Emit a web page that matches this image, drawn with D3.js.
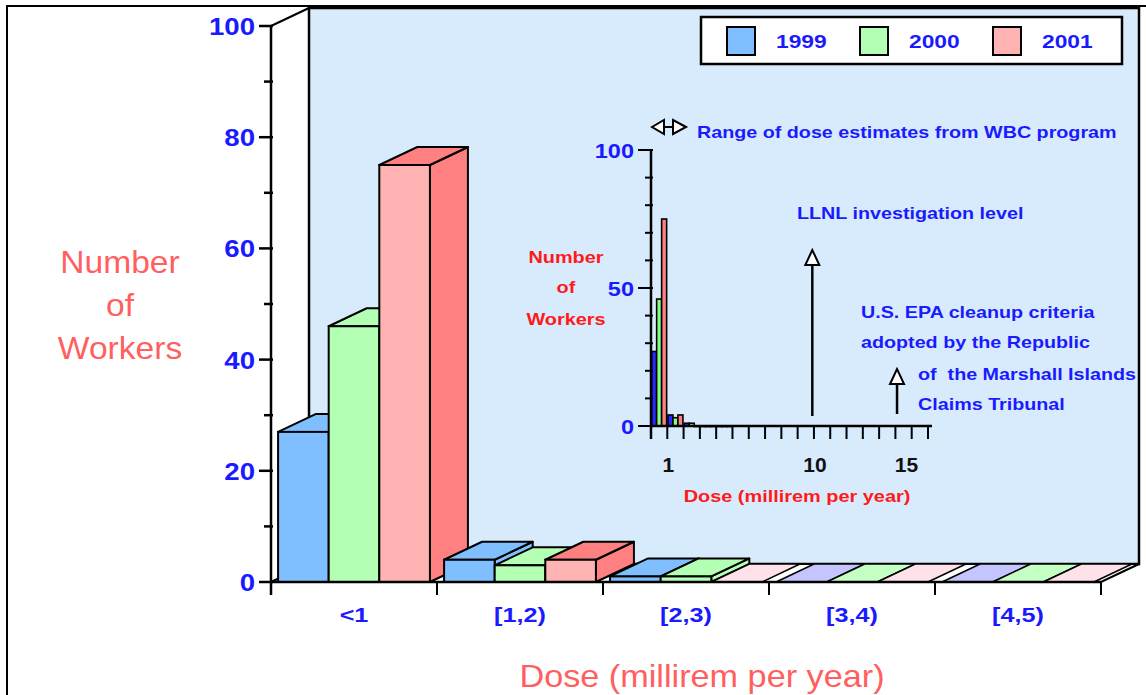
<!DOCTYPE html>
<html>
<head>
<meta charset="utf-8">
<script src="https://cdn.jsdelivr.net/npm/d3@7"></script>
<style>
  html, body { margin: 0; padding: 0; background: #ffffff; }
  svg { display: block; }
  text { font-family: "Liberation Sans", Arial, Helvetica, sans-serif; }
</style>
</head>
<body>
<svg id="chart" width="1146" height="695"></svg>
<script>
// Dose bins and worker counts per year
const categories = ["<1", "[1,2)", "[2,3)", "[3,4)", "[4,5)"];
const years = ["1999", "2000", "2001"];
const workers1999 = [27, 4, 1, 0, 0];
const workers2000 = [46, 3, 1, 0, 0];
const workers2001 = [75, 4, 0, 0, 0];
const yTicks = [0, 20, 40, 60, 80, 100];
const yMinorTicks = [10, 30, 50, 70, 90];

// Inset (linear dose axis)
const insetYTicks = [0, 50, 100];
const insetYMinorTicks = [10, 20, 30, 40, 60, 70, 80, 90];
const insetXTicks = d3.range(0, 18);
const insetXLabels = [1, 10, 15];
const llnlLevel = 10;
const epaLevel = 15;

const series = [workers1999, workers2000, workers2001];

const frontColors = ["#80bfff", "#b3ffb3", "#ffb3b3"];
const topColors = ["#80bfff", "#b3ffb3", "#ff8080"];
const sideColors = ["#80bfff", "#b3ffb3", "#ff8080"];
const floorColors = ["#c4c4ff", "#c4ffc4", "#ffe2e8"];
const insetColors = ["#2a2aff", "#80ff80", "#ff8080"];

const BLUE = "#1a1aff";
const RED = "#ff1a1a";
const SALMON = "#ff5f5f";

const svg = d3.select("#chart");

// Text helper: the chart's lettering is slightly wide, so each label is
// stretched horizontally around its anchor point.
function label(parent, str, x, y, o) {
  return parent.append("text")
    .attr("transform", `translate(${x},${y}) scale(${o.sx || 1},1)`)
    .attr("text-anchor", o.anchor || "start")
    .attr("fill", o.fill || "#000")
    .attr("font-size", o.size)
    .attr("font-weight", o.weight || "normal")
    .text(str);
}

// ---------- main 3-D chart ----------
const DX = 38, DY = -18;          // depth offset of the back plane
const x0 = 271, x1 = 1101;        // front floor edge
const yBase = 582, yTop = 26;

const y = d3.scaleLinear().domain([0, 100]).range([yBase, yTop]);
const x = d3.scaleBand().domain(categories).range([x0, x1]).paddingInner(0).paddingOuter(0);
const xs = d3.scaleBand().domain(years).range([0, x.bandwidth()]).paddingInner(0).paddingOuter(0.14);

// outer frame
svg.append("path")
  .attr("d", `M7,695 L7,6 L1146,6`)
  .attr("fill", "none").attr("stroke", "#000").attr("stroke-width", 2);

// back wall
svg.append("rect")
  .attr("x", x0 + DX).attr("y", yTop + DY)
  .attr("width", (x1 + DX) - (x0 + DX)).attr("height", (yBase + DY) - (yTop + DY))
  .attr("fill", "#d8ebfd").attr("stroke", "#000").attr("stroke-width", 2.5);

// floor (white) and its edges
svg.append("path")
  .attr("d", `M${x0},${yBase} L${x1},${yBase} L${x1 + DX},${yBase + DY} L${x0 + DX},${yBase + DY} Z`)
  .attr("fill", "#fff").attr("stroke", "#000").attr("stroke-width", 2);

// left wall top edge
svg.append("line")
  .attr("x1", x0).attr("y1", y(100)).attr("x2", x0 + DX).attr("y2", y(100) + DY)
  .attr("stroke", "#000").attr("stroke-width", 2);

const poly = pts => "M" + pts.map(p => p.join(",")).join("L") + "Z";

const barsG = svg.append("g");
categories.forEach((cat, ci) => {
  years.forEach((yr, si) => {
    const v = series[si][ci];
    const bx0 = x(cat) + xs(yr);
    const bx1 = bx0 + xs.bandwidth();
    const t = y(v);
    const g = barsG.append("g");
    if (v === 0) {
      g.append("path")
        .attr("d", poly([[bx0, yBase], [bx1, yBase], [bx1 + DX, yBase + DY], [bx0 + DX, yBase + DY]]))
        .attr("fill", floorColors[si]).attr("stroke", "#000").attr("stroke-width", 1.5)
        .attr("stroke-linejoin", "round");
      return;
    }
    // right side face
    g.append("path")
      .attr("d", poly([[bx1, t], [bx1 + DX, t + DY], [bx1 + DX, yBase + DY], [bx1, yBase]]))
      .attr("fill", sideColors[si]).attr("stroke", "#000").attr("stroke-width", 2)
      .attr("stroke-linejoin", "round");
    // top face
    g.append("path")
      .attr("d", poly([[bx0, t], [bx1, t], [bx1 + DX, t + DY], [bx0 + DX, t + DY]]))
      .attr("fill", topColors[si]).attr("stroke", "#000").attr("stroke-width", 2)
      .attr("stroke-linejoin", "round");
    // front face
    g.append("rect")
      .attr("x", bx0).attr("y", t).attr("width", bx1 - bx0).attr("height", yBase - t)
      .attr("fill", frontColors[si]).attr("stroke", "#000").attr("stroke-width", 2);
  });
});

// front x-axis line and category ticks
svg.append("line")
  .attr("x1", x0).attr("x2", x1).attr("y1", yBase).attr("y2", yBase)
  .attr("stroke", "#000").attr("stroke-width", 2.5);
const catEdges = categories.map(c => x(c)).concat([x1]);
svg.append("g").selectAll("line").data(catEdges).join("line")
  .attr("x1", d => d).attr("x2", d => d).attr("y1", yBase).attr("y2", yBase + 13)
  .attr("stroke", "#000").attr("stroke-width", 2);
const catG = svg.append("g");
categories.forEach(c => label(catG, c, x(c) + x.bandwidth() / 2, 622,
  { anchor: "middle", fill: BLUE, size: 21, weight: "bold", sx: 1.2 }));

// y-axis
svg.append("line")
  .attr("x1", x0).attr("x2", x0).attr("y1", y(100)).attr("y2", yBase + 13)
  .attr("stroke", "#000").attr("stroke-width", 2.5);
svg.append("g").selectAll("line").data(yTicks).join("line")
  .attr("x1", x0 - 12).attr("x2", x0 + 2).attr("y1", d => y(d)).attr("y2", d => y(d))
  .attr("stroke", "#000").attr("stroke-width", 2.5);
svg.append("g").selectAll("line").data(yMinorTicks).join("line")
  .attr("x1", x0 - 7).attr("x2", x0 + 2).attr("y1", d => y(d)).attr("y2", d => y(d))
  .attr("stroke", "#000").attr("stroke-width", 2.5);
const yLab = svg.append("g");
yTicks.forEach(d => label(yLab, d, 255, y(d) + 9,
  { anchor: "end", fill: BLUE, size: 24, weight: "bold", sx: 1.15 }));

// axis titles
["Number", "of", "Workers"].forEach((s, i) =>
  label(svg, s, 120, 273 + i * 43, { anchor: "middle", fill: SALMON, size: 32, sx: 1.05 }));
label(svg, "Dose (millirem per year)", 702, 687, { anchor: "middle", fill: SALMON, size: 32, sx: 1.07 });

// legend
const legend = svg.append("g");
legend.append("rect").attr("x", 701).attr("y", 17).attr("width", 421).attr("height", 47)
  .attr("fill", "#fff").attr("stroke", "#000").attr("stroke-width", 2.5);
const legendX = d3.scalePoint().domain(years).range([727, 993]);
years.forEach((yr, i) => {
  legend.append("rect").attr("x", legendX(yr)).attr("y", 27).attr("width", 28).attr("height", 28)
    .attr("fill", frontColors[i]).attr("stroke", "#000").attr("stroke-width", 2);
  label(legend, yr, legendX(yr) + 49, 48, { fill: BLUE, size: 19, weight: "bold", sx: 1.2 });
});

// ---------- inset: linear dose axis ----------
const ix = d3.scaleLinear().domain([0, 17]).range([651, 928]);
const iy = d3.scaleLinear().domain([0, 100]).range([426, 150]);
const inset = svg.append("g");

// inset bars: each bin [i, i+1) holds three thin bars
const ib = d3.scaleBand().domain(years).range([0.04, 0.96]).paddingInner(0);
categories.forEach((cat, ci) => {
  years.forEach((yr, si) => {
    const v = series[si][ci];
    const bx = ix(ci + ib(yr));
    const bw = ix(ci + ib(yr) + ib.bandwidth()) - bx;
    inset.append("rect")
      .attr("x", bx).attr("y", iy(v)).attr("width", bw).attr("height", Math.max(iy(0) - iy(v), 0.5))
      .attr("fill", insetColors[si]).attr("stroke", "#000").attr("stroke-width", 1.6);
  });
});

inset.append("line").attr("x1", ix(0)).attr("x2", ix(0)).attr("y1", iy(100)).attr("y2", iy(0) + 13)
  .attr("stroke", "#000").attr("stroke-width", 2.5);
inset.append("line").attr("x1", ix(0)).attr("x2", 932).attr("y1", iy(0)).attr("y2", iy(0))
  .attr("stroke", "#000").attr("stroke-width", 2.5);
inset.append("g").selectAll("line").data(insetXTicks).join("line")
  .attr("x1", d => ix(d)).attr("x2", d => ix(d)).attr("y1", iy(0)).attr("y2", iy(0) + 13)
  .attr("stroke", "#000").attr("stroke-width", 2);
inset.append("g").selectAll("line").data(insetYTicks).join("line")
  .attr("x1", ix(0) - 13).attr("x2", ix(0) + 2).attr("y1", d => iy(d)).attr("y2", d => iy(d))
  .attr("stroke", "#000").attr("stroke-width", 2);
inset.append("g").selectAll("line").data(insetYMinorTicks).join("line")
  .attr("x1", ix(0) - 6).attr("x2", ix(0) + 2).attr("y1", d => iy(d)).attr("y2", d => iy(d))
  .attr("stroke", "#000").attr("stroke-width", 2);
insetYTicks.forEach(d => label(inset, d, 634, iy(d) + 8,
  { anchor: "end", fill: BLUE, size: 21, weight: "bold", sx: 1.12 }));
insetXLabels.forEach(d => label(inset, d, ix(d) + (d === 15 ? 11 : 1), 472,
  { anchor: "middle", fill: "#111", size: 20, weight: "bold", sx: 1.05 }));

// inset titles
[["Number", 263], ["of", 293], ["Workers", 325]].forEach(([s, yy]) =>
  label(inset, s, 566, yy, { anchor: "middle", fill: RED, size: 17, weight: "bold", sx: 1.17 }));
label(inset, "Dose (millirem per year)", 797, 502,
  { anchor: "middle", fill: RED, size: 17, weight: "bold", sx: 1.17 });

// range symbol and its caption
const sym = inset.append("g").attr("fill", "#fff").attr("stroke", "#000").attr("stroke-width", 2)
  .attr("stroke-linejoin", "miter");
sym.append("path").attr("d", "M652,127 L664,120 L664,134 Z");
sym.append("path").attr("d", "M686,127 L673,120 L673,134 Z");
sym.append("line").attr("x1", 664).attr("x2", 673).attr("y1", 127).attr("y2", 127);
const capt = { fill: BLUE, size: 17, weight: "bold", sx: 1.16 };
label(inset, "Range of dose estimates from WBC program", 697, 138, capt);

// reference-level arrows
function upArrow(xv, yFrom, yTip) {
  const xp = ix(xv);
  inset.append("line").attr("x1", xp).attr("x2", xp).attr("y1", yFrom).attr("y2", yTip + 14)
    .attr("stroke", "#000").attr("stroke-width", 2.5);
  inset.append("path").attr("d", `M${xp},${yTip} L${xp - 7},${yTip + 15} L${xp + 7},${yTip + 15} Z`)
    .attr("fill", "#fff").attr("stroke", "#000").attr("stroke-width", 2);
}
upArrow(llnlLevel - 0.1, 416, 250);
upArrow(epaLevel + 0.1, 414, 369);

label(inset, "LLNL investigation level", 797, 219, capt);
label(inset, "U.S. EPA cleanup criteria", 861, 318, capt);
label(inset, "adopted by the Republic", 861, 348, capt);
label(inset, "of\u00a0 the Marshall Islands", 918, 380, capt);
label(inset, "Claims Tribunal", 918, 410, capt);
</script>
</body>
</html>
